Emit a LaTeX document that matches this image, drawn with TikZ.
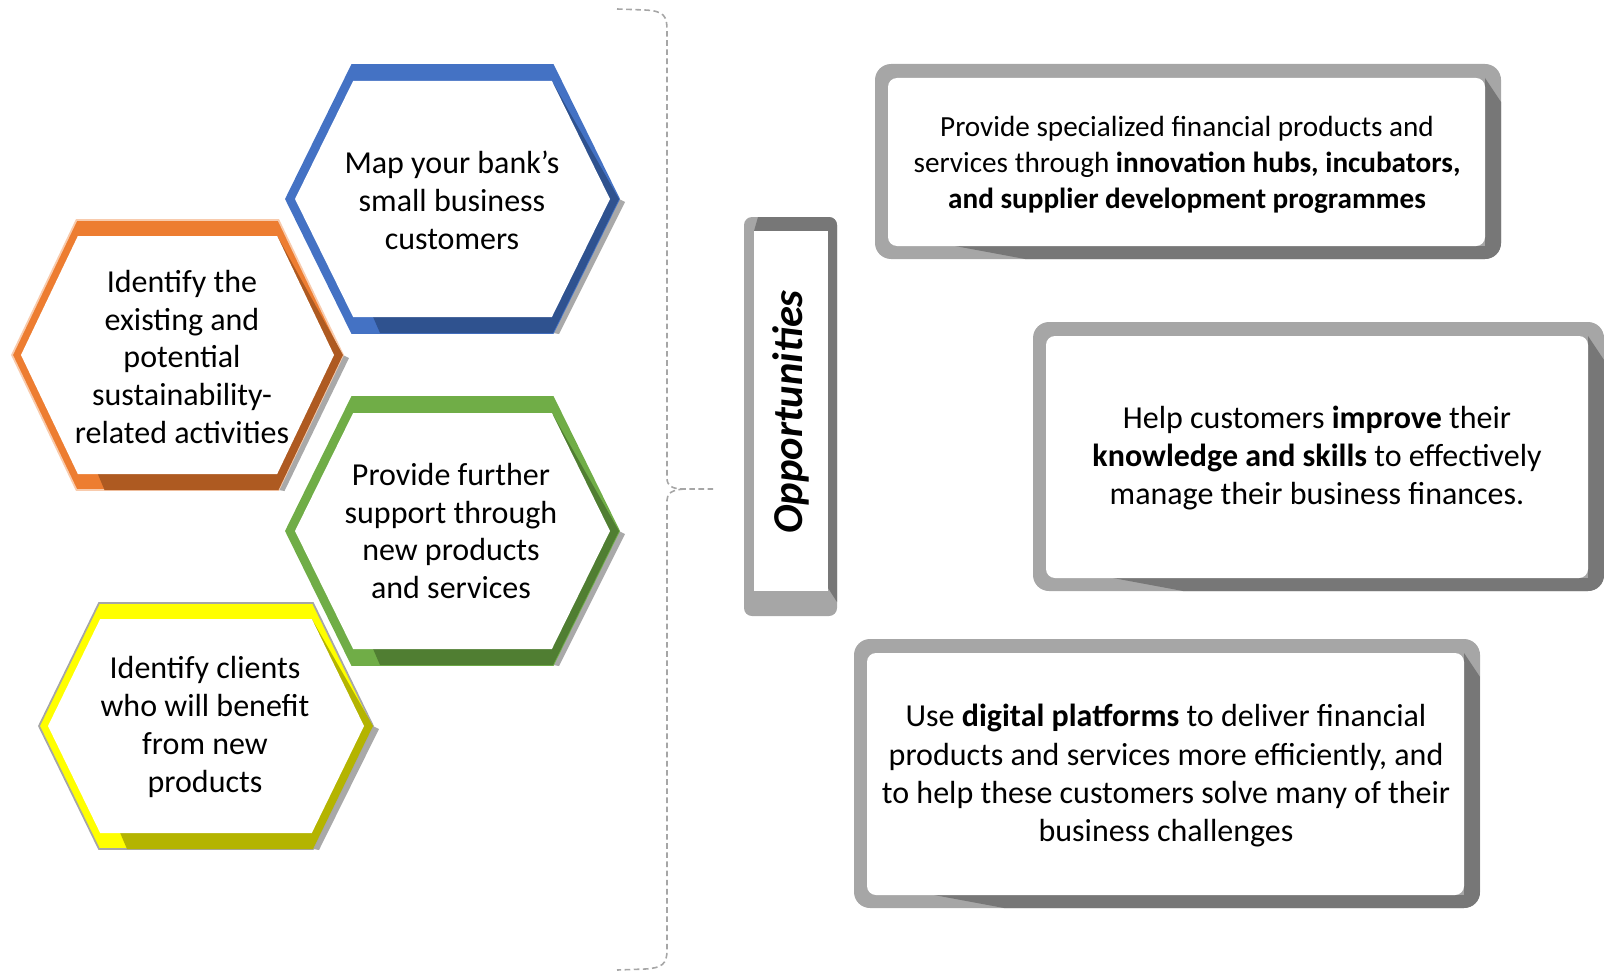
\documentclass[tikz,border=0pt]{standalone}
\usepackage{fontspec}
\setmainfont{Carlito}
\definecolor{bluelight}{HTML}{4472C4}
\definecolor{bluedark}{HTML}{2F528F}
\definecolor{orangelight}{HTML}{ED7D31}
\definecolor{orangedark}{HTML}{AE5A21}
\definecolor{orangeedge}{HTML}{F8CBAD}
\definecolor{greenlight}{HTML}{70AD47}
\definecolor{greendark}{HTML}{507E32}
\definecolor{yellowlight}{HTML}{FFFF00}
\definecolor{yellowdark}{HTML}{B4B400}
\definecolor{framelight}{HTML}{A6A6A6}
\definecolor{framedark}{HTML}{777777}
\definecolor{shadowgray}{HTML}{A9A9A9}
\tikzset{
  hextext/.style={align=center, font=\fontsize{9.1}{10.8}\selectfont},
  boxtext/.style={align=center, font=\fontsize{9.1}{10.9}\selectfont},
  opptitle/.style={font=\fontsize{12.1}{14}\selectfont\bfseries\itshape},
  brace/.style={draw=framelight, line width=0.45pt, dash pattern=on 1.6pt off 1pt}
}
% hexagon frame: cx, cy, half width, half top, half height, light, dark, edge
\newcommand{\hexframe}[8]{%
  \pgfmathsetmacro{\hai}{#3-9}
  \pgfmathsetmacro{\hhi}{#5-16}
  \pgfmathsetmacro{\hbi}{\hai-(#3-#4)*\hhi/#5}
  \fill[shadowgray] ({#1+#3},{#2}) -- ({#1+#3+6},{#2+3}) -- ({#1+#4+6},{#2+#5+1})
    -- ({#1+#4},{#2+#5}) -- cycle;
  \filldraw[fill=#6, draw=#8, line width=0.5pt] ({#1-#3},{#2}) -- ({#1-#4},{#2-#5})
    -- ({#1+#4},{#2-#5}) -- ({#1+#3},{#2}) -- ({#1+#4},{#2+#5}) -- ({#1-#4},{#2+#5}) -- cycle;
  \fill[#7] ({#1+\hbi},{#2-\hhi}) -- ({#1+#3},{#2}) -- ({#1+#4},{#2+#5})
    -- ({#1-#4+28},{#2+#5}) -- ({#1-\hbi+20},{#2+\hhi}) -- cycle;
  \fill[white] ({#1-\hai},{#2}) -- ({#1-\hbi},{#2-\hhi}) -- ({#1+\hbi},{#2-\hhi})
    -- ({#1+\hai},{#2}) -- ({#1+\hbi},{#2+\hhi}) -- ({#1-\hbi},{#2+\hhi}) -- cycle;
}
% rounded frame with darker right and bottom: x1, y1, x2, y2
\newcommand{\oppframe}[4]{%
  \fill[framelight, rounded corners=0.16cm] (#1,#2) rectangle (#3,#4);
  \begin{scope}
    \clip[rounded corners=0.16cm] (#1,#2) rectangle (#3,#4);
    \fill[framedark] ({#3-16},{#2+14}) -- (#3,{#2+38}) -- (#3,#4) -- ({#1+150},#4)
      -- ({#1+80},{#4-13}) -- ({#3-16},{#4-13}) -- cycle;
  \end{scope}
  \fill[white, rounded corners=0.09cm] ({#1+13},{#2+14}) rectangle ({#3-16},{#4-13});
}

\begin{document}
\begin{tikzpicture}[x=0.01cm, y=-0.01cm]
  \useasboundingbox (0,0) rectangle (1604,973);

  % hexagons
  \hexframe{452.5}{199}{166.5}{100.5}{134}{bluelight}{bluedark}{bluelight}
  \hexframe{177.5}{355}{165.5}{101}{135}{orangelight}{orangedark}{orangeedge}
  \hexframe{452.5}{531}{166.5}{100.5}{134}{greenlight}{greendark}{greenlight}
  \hexframe{206}{726}{167}{107}{123}{yellowlight}{yellowdark}{framelight}

  \node[hextext] (map) at (452,200) {Map your bank’s\\small business\\customers};
  \node[hextext] (identify) at (182,357) {Identify the\\existing and\\potential\\sustainability-\\related activities};
  \node[hextext] (support) at (451,531) {Provide further\\support through\\new products\\and services};
  \node[hextext] (clients) at (205,727) {Identify clients\\who will benefit\\from new\\products};

  % brace
  \draw[brace] (617,9) -- (645,10) .. controls (664,11) and (667,16) .. (667,30)
    -- (667,478) .. controls (667,486) and (672,489) .. (684,489) -- (716,489);
  \draw[brace] (684,489) .. controls (672,490) and (667,493) .. (667,500)
    -- (667,950) .. controls (667,964) and (662,968) .. (645,969) -- (617,970);

  % title box
  \fill[framelight, rounded corners=0.08cm] (744,217) rectangle (837,616);
  \begin{scope}
    \clip[rounded corners=0.08cm] (744,217) rectangle (837,616);
    \fill[framedark] (758,217) -- (837,217) -- (837,602) -- (828,588) -- (828,231)
      -- (754,231) -- cycle;
  \end{scope}
  \fill[white] (754,231) rectangle (828,591);
  \node[opptitle, rotate=90] (opp) at (791,412) {Opportunities};

  % opportunity boxes
  \oppframe{875}{64}{1501}{259}
  \oppframe{1033}{322}{1604}{591}
  \oppframe{854}{639}{1480}{908}

  \node[boxtext, font=\fontsize{8.3}{10.2}\selectfont] (hubs) at (1187,165)
    {Provide specialized financial products and\\services through \textbf{innovation hubs, incubators,}\\\textbf{and supplier development programmes}};
  \node[boxtext] (skills) at (1317,458)
    {Help customers \textbf{improve} their\\\textbf{knowledge and skills} to effectively\\manage their business finances.};
  \node[boxtext] (digital) at (1166,776)
    {Use \textbf{digital platforms} to deliver financial\\products and services more efficiently, and\\to help these customers solve many of their\\business challenges};
\end{tikzpicture}
\end{document}
